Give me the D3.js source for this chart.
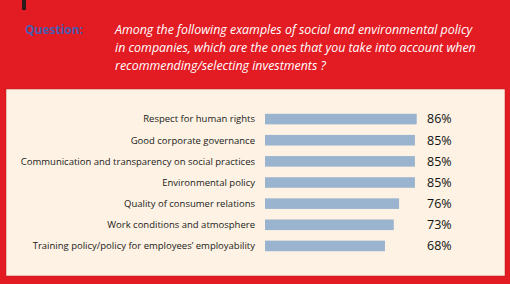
<!DOCTYPE html>
<html>
<head>
<meta charset="utf-8">
<script src="https://cdn.jsdelivr.net/npm/d3@7"></script>
<style>
  body { margin: 0; background: #e31b23; }
  svg { display: block; }
</style>
</head>
<body>
<svg id="chart" width="510" height="284"></svg>
<script>
let categories = [
    "Respect for human rights",
    "Good corporate governance",
    "Communication and transparency on social practices",
    "Environmental policy",
    "Quality of consumer relations",
    "Work conditions and atmosphere",
    "Training policy/policy for employees\u2019 employability"
];
let values = [86, 85, 85, 85, 76, 73, 68];
let question_lines = [
    "Among the following examples of social and environmental policy",
    "in companies, which are the ones that you take into account when",
    "recommending/selecting investments ?"
];

function plot_chart() {
    let svg = d3.select("#chart");

    svg.append("rect")
        .attr("width", 510).attr("height", 284)
        .attr("fill", "#e31b23");

    // little dark tick at the top
    svg.append("rect")
        .attr("x", 22).attr("y", 0)
        .attr("width", 4).attr("height", 10)
        .attr("fill", "#2a1a1a");

    svg.append("text")
        .attr("x", 25).attr("y", 34)
        .attr("fill", "#4a5cae")
        .attr("font-family", "Open Sans, sans-serif")
        .attr("font-size", "12px")
        .attr("font-weight", "bold")
        .text("Question:");

    svg.selectAll(".q")
        .data(question_lines)
        .enter().append("text")
            .attr("class", "q")
            .attr("x", 115)
            .attr("y", (d, i) => 34 + i * 18)
            .attr("fill", "#fff")
            .attr("font-family", "Open Sans, sans-serif")
            .attr("font-style", "italic")
            .attr("font-size", "12.4px")
            .text(d => d);

    // beige panel
    svg.append("rect")
        .attr("x", 6).attr("y", 89)
        .attr("width", 499).attr("height", 187)
        .attr("fill", "#fdf2e3")
        .attr("stroke", "#b81a1a")
        .attr("stroke-width", 0.5);

    let x = d3.scaleLinear()
        .domain([0, 100])
        .range([265, 265 + 176.4]);
    let y = d3.scaleBand()
        .domain(categories)
        .range([108.5, 256.5])
        .paddingInner(0.5)
        .paddingOuter(0.25);

    let g = svg.append("g");

    g.selectAll(".bar")
        .data(categories)
        .enter().append("rect")
            .attr("class", "bar")
            .attr("x", x(0))
            .attr("y", d => y(d))
            .attr("width", (d, i) => x(values[i]) - x(0))
            .attr("height", y.bandwidth())
            .attr("fill", "#9ab4cf");

    g.selectAll(".label")
        .data(categories)
        .enter().append("text")
            .attr("class", "label")
            .attr("x", 255)
            .attr("y", d => y(d) + y.bandwidth() / 2)
            .attr("dy", "0.35em")
            .attr("text-anchor", "end")
            .attr("fill", "#1a1a1a")
            .attr("font-family", "Open Sans, sans-serif")
            .attr("font-size", "9.5px")
            .text(d => d);

    g.selectAll(".val")
        .data(categories)
        .enter().append("text")
            .attr("class", "val")
            .attr("x", 427)
            .attr("y", d => y(d) + y.bandwidth() / 2)
            .attr("dy", "0.35em")
            .attr("fill", "#111")
            .attr("font-family", "Open Sans, sans-serif")
            .attr("font-size", "12.5px")
            .text((d, i) => values[i] + "%");
}

plot_chart();
</script>
</body>
</html>
